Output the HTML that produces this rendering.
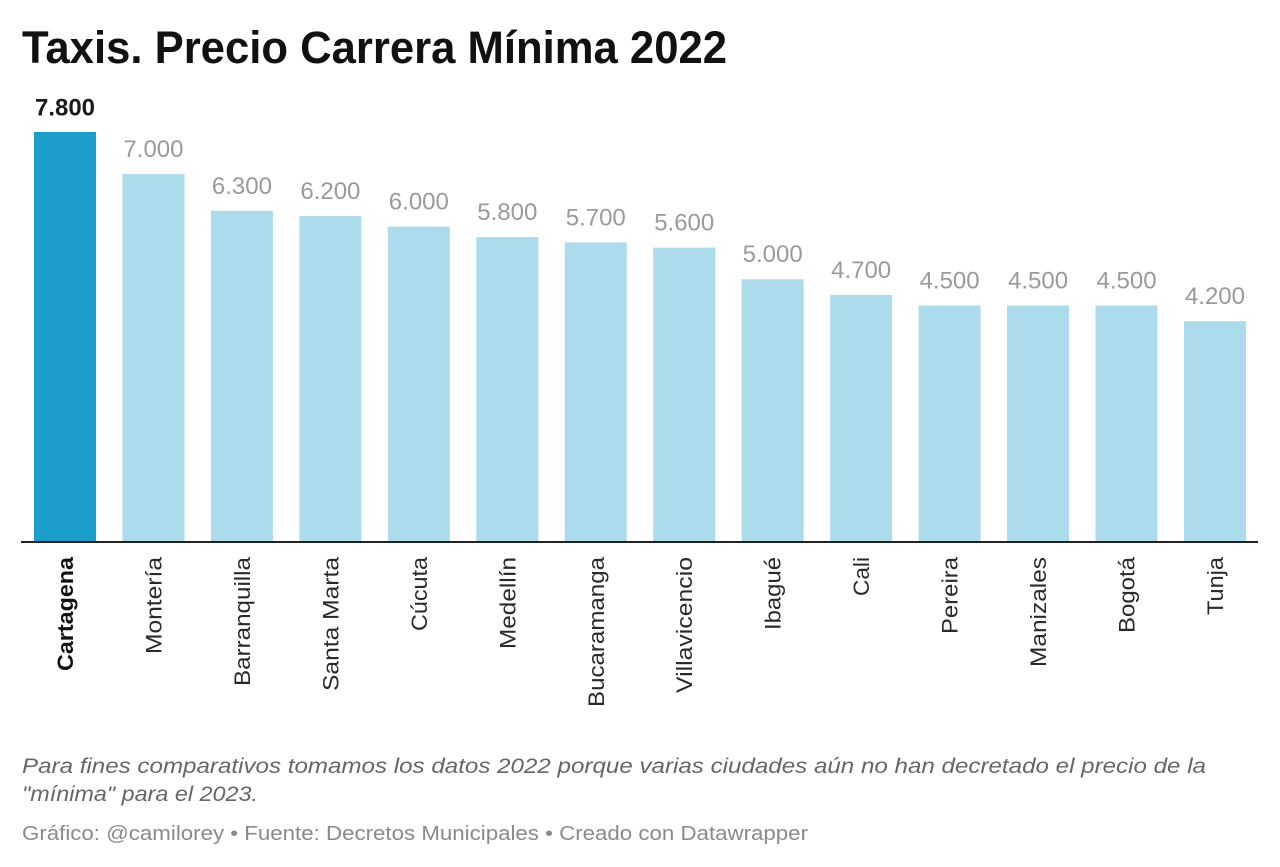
<!DOCTYPE html>
<html>
<head>
<meta charset="utf-8">
<style>
  html, body { margin: 0; padding: 0; background: #ffffff; }
  svg { display: block; }
  text { font-family: "Liberation Sans", Arial, sans-serif; }
</style>
</head>
<body>
<svg width="1280" height="867" viewBox="0 0 1280 867" xmlns="http://www.w3.org/2000/svg">
  <rect x="0" y="0" width="1280" height="867" fill="#ffffff"/>

  <!-- Title -->
  <text x="22" y="63" font-size="45" font-weight="bold" fill="#111111" textLength="705" lengthAdjust="spacingAndGlyphs">Taxis. Precio Carrera Mínima 2022</text>

  <!-- Bars -->
  <rect x="34" y="132" width="62" height="410" fill="#1b9fca"/>
  <rect x="122.46" y="174.1" width="62" height="367.9" fill="#acdcec"/>
  <rect x="210.92" y="210.8" width="62" height="331.2" fill="#acdcec"/>
  <rect x="299.38" y="216.1" width="62" height="325.9" fill="#acdcec"/>
  <rect x="387.84" y="226.6" width="62" height="315.4" fill="#acdcec"/>
  <rect x="476.3" y="237.1" width="62" height="304.9" fill="#acdcec"/>
  <rect x="564.76" y="242.4" width="62" height="299.6" fill="#acdcec"/>
  <rect x="653.22" y="247.6" width="62" height="294.4" fill="#acdcec"/>
  <rect x="741.68" y="279.2" width="62" height="262.8" fill="#acdcec"/>
  <rect x="830.14" y="294.9" width="62" height="247.1" fill="#acdcec"/>
  <rect x="918.6" y="305.5" width="62" height="236.5" fill="#acdcec"/>
  <rect x="1007.06" y="305.5" width="62" height="236.5" fill="#acdcec"/>
  <rect x="1095.52" y="305.5" width="62" height="236.5" fill="#acdcec"/>
  <rect x="1183.98" y="321.2" width="62" height="220.8" fill="#acdcec"/>

  <!-- Baseline axis -->
  <rect x="21" y="541" width="1237" height="2" fill="#222222"/>

  <!-- Value labels -->
  <g font-size="24" text-anchor="middle">
    <text x="65" y="115.5" font-weight="bold" fill="#1a1a1a">7.800</text>
    <text x="153.46" y="157" fill="#9a9a9a">7.000</text>
    <text x="241.92" y="193.8" fill="#9a9a9a">6.300</text>
    <text x="330.38" y="199.1" fill="#9a9a9a">6.200</text>
    <text x="418.84" y="209.6" fill="#9a9a9a">6.000</text>
    <text x="507.3" y="220.1" fill="#9a9a9a">5.800</text>
    <text x="595.76" y="225.4" fill="#9a9a9a">5.700</text>
    <text x="684.22" y="230.6" fill="#9a9a9a">5.600</text>
    <text x="772.68" y="262.2" fill="#9a9a9a">5.000</text>
    <text x="861.14" y="277.9" fill="#9a9a9a">4.700</text>
    <text x="949.6" y="288.5" fill="#9a9a9a">4.500</text>
    <text x="1038.06" y="288.5" fill="#9a9a9a">4.500</text>
    <text x="1126.52" y="288.5" fill="#9a9a9a">4.500</text>
    <text x="1214.98" y="304.2" fill="#9a9a9a">4.200</text>
  </g>

  <!-- X axis labels (rotated) -->
  <g font-size="22" text-anchor="end" fill="#2a2a2a">
    <text transform="translate(73,557) rotate(-90)" font-weight="bold" fill="#111111" textLength="114" lengthAdjust="spacingAndGlyphs">Cartagena</text>
    <text transform="translate(161.46,557) rotate(-90)" textLength="97" lengthAdjust="spacingAndGlyphs">Montería</text>
    <text transform="translate(249.92,557) rotate(-90)" textLength="129" lengthAdjust="spacingAndGlyphs">Barranquilla</text>
    <text transform="translate(338.38,557) rotate(-90)" textLength="134" lengthAdjust="spacingAndGlyphs">Santa Marta</text>
    <text transform="translate(426.84,557) rotate(-90)" textLength="74" lengthAdjust="spacingAndGlyphs">Cúcuta</text>
    <text transform="translate(515.3,557) rotate(-90)" textLength="92" lengthAdjust="spacingAndGlyphs">Medellín</text>
    <text transform="translate(603.76,557) rotate(-90)" textLength="150" lengthAdjust="spacingAndGlyphs">Bucaramanga</text>
    <text transform="translate(692.22,557) rotate(-90)" textLength="136" lengthAdjust="spacingAndGlyphs">Villavicencio</text>
    <text transform="translate(780.68,557) rotate(-90)" textLength="73" lengthAdjust="spacingAndGlyphs">Ibagué</text>
    <text transform="translate(869.14,557) rotate(-90)" textLength="39" lengthAdjust="spacingAndGlyphs">Cali</text>
    <text transform="translate(957.6,557) rotate(-90)" textLength="77" lengthAdjust="spacingAndGlyphs">Pereira</text>
    <text transform="translate(1046.06,557) rotate(-90)" textLength="110" lengthAdjust="spacingAndGlyphs">Manizales</text>
    <text transform="translate(1134.52,557) rotate(-90)" textLength="76" lengthAdjust="spacingAndGlyphs">Bogotá</text>
    <text transform="translate(1222.98,557) rotate(-90)" textLength="58" lengthAdjust="spacingAndGlyphs">Tunja</text>
  </g>

  <!-- Caption -->
  <g font-size="21" font-style="italic" fill="#666666">
    <text x="22" y="773" textLength="1184" lengthAdjust="spacingAndGlyphs">Para fines comparativos tomamos los datos 2022 porque varias ciudades aún no han decretado el precio de la</text>
    <text x="22" y="801" textLength="236" lengthAdjust="spacingAndGlyphs">"mínima" para el 2023.</text>
  </g>

  <!-- Footer -->
  <text x="22" y="840" font-size="20" fill="#8a8a8a" textLength="786" lengthAdjust="spacingAndGlyphs">Gráfico: @camilorey • Fuente: Decretos Municipales • Creado con Datawrapper</text>
</svg>
</body>
</html>
